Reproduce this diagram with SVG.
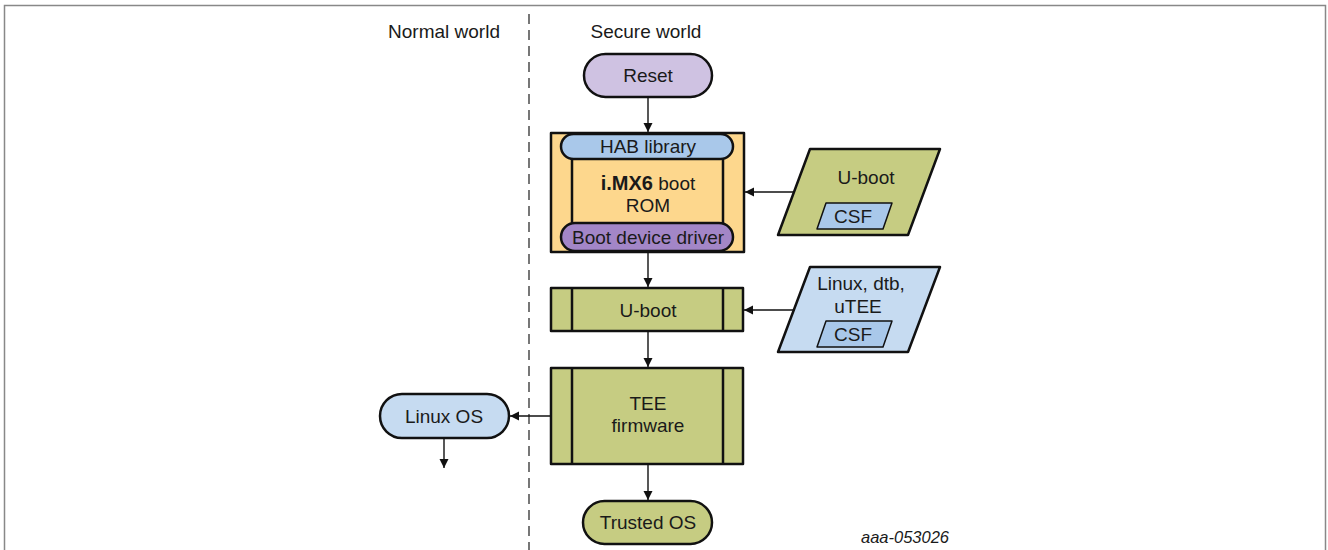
<svg xmlns="http://www.w3.org/2000/svg" width="1328" height="550" viewBox="0 0 1328 550">
<defs>
<style>
text{font-family:"Liberation Sans",Arial,sans-serif;font-size:19px;fill:#1a1a1a;text-anchor:middle}
.n{stroke:#111;stroke-width:2.5;stroke-linejoin:round}
.c{stroke:#111;stroke-width:1.4;fill:none}
.olive{fill:#c6cc82}
.lblue{fill:#c6dbf1}
.mblue{fill:#a9c8ea}
</style>
<marker id="ah" markerWidth="10" markerHeight="10" refX="9" refY="5" orient="auto" markerUnits="userSpaceOnUse">
<path d="M0,0.5 L9,5 L0,9.5 Z" fill="#111"/>
</marker>
</defs>
<rect width="1328" height="550" fill="#fff"/>
<path d="M4.5,550 V5.5 H1325.5 V550" fill="none" stroke="#888" stroke-width="1.5"/>
<line x1="529" y1="14" x2="529" y2="550" stroke="#555" stroke-width="1.6" stroke-dasharray="10,6"/>
<text x="444" y="38">Normal world</text>
<text x="646" y="38">Secure world</text>

<g id="reset"><rect class="n" x="584" y="54" width="128" height="43" rx="21.5" fill="#cfc2e2"/><text x="648" y="82">Reset</text></g>

<g id="rom">
<rect class="n" x="551" y="133" width="193" height="119" fill="#fdd78d"/>
<rect class="n" x="572" y="150" width="151" height="85" fill="#fdd78d"/>
<rect class="n" x="561" y="134" width="172" height="25" rx="12.5" fill="#a9c8ea"/>
<text x="648" y="153">HAB library</text>
<rect class="n" x="561" y="223" width="172" height="28" rx="14" fill="#a386c7"/>
<text x="648" y="244">Boot device driver</text>
<text x="648" y="190"><tspan font-weight="bold" style="font-size:20px">i.MX6</tspan> boot</text>
<text x="648" y="212">ROM</text>
</g>

<g id="uboot-image">
<polygon class="n olive" points="810,149 940,149 908,235 778,235"/>
<text x="866" y="184">U-boot</text>
<polygon class="n mblue" style="stroke-width:1.5" points="826,203 892,203 883,229 817,229"/>
<text x="853" y="223">CSF</text>
</g>

<g id="linux-image">
<polygon class="n lblue" points="810,267 940,267 908,352 778,352"/>
<text x="861" y="290">Linux, dtb,</text>
<text x="858" y="313">uTEE</text>
<polygon class="n mblue" style="stroke-width:1.5" points="826,321 892,321 883,347 817,347"/>
<text x="853" y="341">CSF</text>
</g>

<g id="uboot">
<rect class="n olive" x="551" y="288" width="192" height="43"/>
<line class="n" x1="572" y1="288" x2="572" y2="331"/>
<line class="n" x1="723" y1="288" x2="723" y2="331"/>
<text x="648" y="317">U-boot</text>
</g>

<g id="tee">
<rect class="n olive" x="551" y="368" width="192" height="96"/>
<line class="n" x1="572" y1="368" x2="572" y2="464"/>
<line class="n" x1="723" y1="368" x2="723" y2="464"/>
<text x="648" y="410">TEE</text>
<text x="648" y="432">firmware</text>
</g>

<g id="linux-os"><rect class="n lblue" x="380" y="394" width="129" height="44" rx="22"/><text x="444" y="423">Linux OS</text></g>

<g id="trusted-os"><rect class="n olive" x="583" y="501" width="129" height="43" rx="21.5"/><text x="648" y="529">Trusted OS</text></g>

<g id="connectors">
<line class="c" x1="648" y1="97" x2="648" y2="132" marker-end="url(#ah)"/>
<line class="c" x1="648" y1="252" x2="648" y2="287" marker-end="url(#ah)"/>
<line class="c" x1="648" y1="331" x2="648" y2="367" marker-end="url(#ah)"/>
<line class="c" x1="648" y1="464" x2="648" y2="500" marker-end="url(#ah)"/>
<line class="c" x1="795" y1="192" x2="745" y2="192" marker-end="url(#ah)"/>
<line class="c" x1="795" y1="310" x2="744" y2="310" marker-end="url(#ah)"/>
<line class="c" x1="551" y1="416" x2="510" y2="416" marker-end="url(#ah)"/>
<line class="c" x1="444" y1="438" x2="444" y2="468" marker-end="url(#ah)"/>
</g>

<text x="905" y="543" font-style="italic" style="font-size:16.5px">aaa-053026</text>
</svg>
